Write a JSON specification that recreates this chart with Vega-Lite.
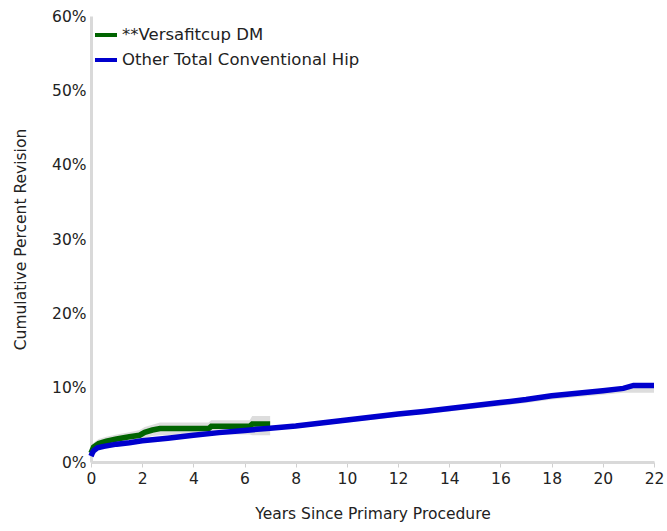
{
  "$schema": "https://vega.github.io/schema/vega-lite/v6.json",
  "width": 563,
  "height": 446,
  "autosize": {"type": "none"},
  "padding": {"left": 91, "top": 16, "right": 13, "bottom": 69},
  "background": "white",
  "config": {
    "view": {"stroke": null},
    "font": "DejaVu Sans",
    "axis": {"grid": false, "domainColor": "#d9d9d9", "domainWidth": 3, "labelColor": "#222", "titleColor": "#222", "labelFontSize": 15.5, "titleFontSize": 15.5, "titleFontWeight": "normal", "labelFont": "DejaVu Sans", "titleFont": "DejaVu Sans"}
  },
  "data": {"values": [
    {"g": "**Versafitcup DM", "x": 0, "y": 1.2, "lo": 0.6, "hi": 1.8},
    {"g": "**Versafitcup DM", "x": 0.1, "y": 2.0, "lo": 1.4, "hi": 2.6},
    {"g": "**Versafitcup DM", "x": 0.3, "y": 2.5, "lo": 1.9, "hi": 3.1},
    {"g": "**Versafitcup DM", "x": 0.6, "y": 2.8, "lo": 2.2, "hi": 3.4},
    {"g": "**Versafitcup DM", "x": 1.0, "y": 3.1, "lo": 2.4, "hi": 3.7},
    {"g": "**Versafitcup DM", "x": 1.5, "y": 3.4, "lo": 2.7, "hi": 4.0},
    {"g": "**Versafitcup DM", "x": 1.9, "y": 3.6, "lo": 2.9, "hi": 4.3},
    {"g": "**Versafitcup DM", "x": 2.1, "y": 4.0, "lo": 3.2, "hi": 4.7},
    {"g": "**Versafitcup DM", "x": 2.4, "y": 4.3, "lo": 3.5, "hi": 5.0},
    {"g": "**Versafitcup DM", "x": 2.7, "y": 4.5, "lo": 3.6, "hi": 5.3},
    {"g": "**Versafitcup DM", "x": 4.6, "y": 4.5, "lo": 3.6, "hi": 5.3},
    {"g": "**Versafitcup DM", "x": 4.7, "y": 4.8, "lo": 3.7, "hi": 5.6},
    {"g": "**Versafitcup DM", "x": 6.2, "y": 4.8, "lo": 3.7, "hi": 5.6},
    {"g": "**Versafitcup DM", "x": 6.3, "y": 5.1, "lo": 3.6, "hi": 6.2},
    {"g": "**Versafitcup DM", "x": 7.0, "y": 5.1, "lo": 3.6, "hi": 6.2},
    {"g": "Other Total Conventional Hip", "x": 0, "y": 0.8, "lo": 0.6, "hi": 1.0},
    {"g": "Other Total Conventional Hip", "x": 0.05, "y": 1.2, "lo": 1.0, "hi": 1.3},
    {"g": "Other Total Conventional Hip", "x": 0.1, "y": 1.5, "lo": 1.3, "hi": 1.6},
    {"g": "Other Total Conventional Hip", "x": 0.25, "y": 1.9, "lo": 1.7, "hi": 2.0},
    {"g": "Other Total Conventional Hip", "x": 0.5, "y": 2.1, "lo": 1.9, "hi": 2.2},
    {"g": "Other Total Conventional Hip", "x": 1, "y": 2.4, "lo": 2.2, "hi": 2.5},
    {"g": "Other Total Conventional Hip", "x": 1.5, "y": 2.6, "lo": 2.4, "hi": 2.7},
    {"g": "Other Total Conventional Hip", "x": 2, "y": 2.85, "lo": 2.65, "hi": 2.95},
    {"g": "Other Total Conventional Hip", "x": 3, "y": 3.2, "lo": 3.0, "hi": 3.3},
    {"g": "Other Total Conventional Hip", "x": 4, "y": 3.6, "lo": 3.35, "hi": 3.7},
    {"g": "Other Total Conventional Hip", "x": 5, "y": 3.95, "lo": 3.7, "hi": 4.05},
    {"g": "Other Total Conventional Hip", "x": 6, "y": 4.25, "lo": 4.0, "hi": 4.35},
    {"g": "Other Total Conventional Hip", "x": 7, "y": 4.55, "lo": 4.3, "hi": 4.65},
    {"g": "Other Total Conventional Hip", "x": 8, "y": 4.85, "lo": 4.55, "hi": 4.95},
    {"g": "Other Total Conventional Hip", "x": 9, "y": 5.25, "lo": 4.95, "hi": 5.35},
    {"g": "Other Total Conventional Hip", "x": 10, "y": 5.65, "lo": 5.3, "hi": 5.75},
    {"g": "Other Total Conventional Hip", "x": 11, "y": 6.05, "lo": 5.7, "hi": 6.15},
    {"g": "Other Total Conventional Hip", "x": 12, "y": 6.45, "lo": 6.1, "hi": 6.55},
    {"g": "Other Total Conventional Hip", "x": 13, "y": 6.8, "lo": 6.45, "hi": 6.9},
    {"g": "Other Total Conventional Hip", "x": 14, "y": 7.2, "lo": 6.8, "hi": 7.3},
    {"g": "Other Total Conventional Hip", "x": 15, "y": 7.6, "lo": 7.2, "hi": 7.7},
    {"g": "Other Total Conventional Hip", "x": 16, "y": 8.0, "lo": 7.55, "hi": 8.1},
    {"g": "Other Total Conventional Hip", "x": 17, "y": 8.4, "lo": 7.95, "hi": 8.5},
    {"g": "Other Total Conventional Hip", "x": 18, "y": 8.9, "lo": 8.4, "hi": 9.0},
    {"g": "Other Total Conventional Hip", "x": 19, "y": 9.25, "lo": 8.75, "hi": 9.35},
    {"g": "Other Total Conventional Hip", "x": 20, "y": 9.6, "lo": 9.05, "hi": 9.7},
    {"g": "Other Total Conventional Hip", "x": 20.8, "y": 9.9, "lo": 9.3, "hi": 10.0},
    {"g": "Other Total Conventional Hip", "x": 21.2, "y": 10.3, "lo": 9.3, "hi": 10.4},
    {"g": "Other Total Conventional Hip", "x": 22, "y": 10.3, "lo": 9.3, "hi": 10.4}
  ]},
  "encoding": {
    "x": {"field": "x", "type": "quantitative", "scale": {"domain": [0, 22], "nice": false},
      "axis": {"title": "Years Since Primary Procedure", "values": [0,2,4,6,8,10,12,14,16,18,20,22], "tickColor": "#d0d0d0", "tickSize": 5, "labelPadding": 4, "titlePadding": 20, "labelFlush": false}}
  },
  "layer": [
    {
      "mark": {"type": "area", "color": "#d9d9d9", "opacity": 0.9},
      "encoding": {
        "y": {"field": "lo", "type": "quantitative"},
        "y2": {"field": "hi"},
        "detail": {"field": "g"}
      }
    },
    {
      "mark": {"type": "line", "strokeWidth": 5.5},
      "encoding": {
        "y": {"field": "y", "type": "quantitative", "scale": {"domain": [0, 60], "nice": false},
          "axis": {"title": "Cumulative Percent Revision", "values": [0,10,20,30,40,50,60], "labelExpr": "datum.value + '%'", "ticks": false, "labelPadding": 5, "titlePadding": 23}},
        "color": {"field": "g", "type": "nominal",
          "scale": {"domain": ["**Versafitcup DM", "Other Total Conventional Hip"], "range": ["#006400", "#0000cd"]},
          "legend": {"title": null, "orient": "none", "legendX": 2, "legendY": 6, "symbolType": "stroke", "symbolStrokeWidth": 4, "symbolSize": 484, "labelFontSize": 16.5, "labelColor": "#222", "labelFont": "DejaVu Sans", "labelLimit": 0, "rowPadding": 3, "labelOffset": 3}}
      }
    }
  ]
}
